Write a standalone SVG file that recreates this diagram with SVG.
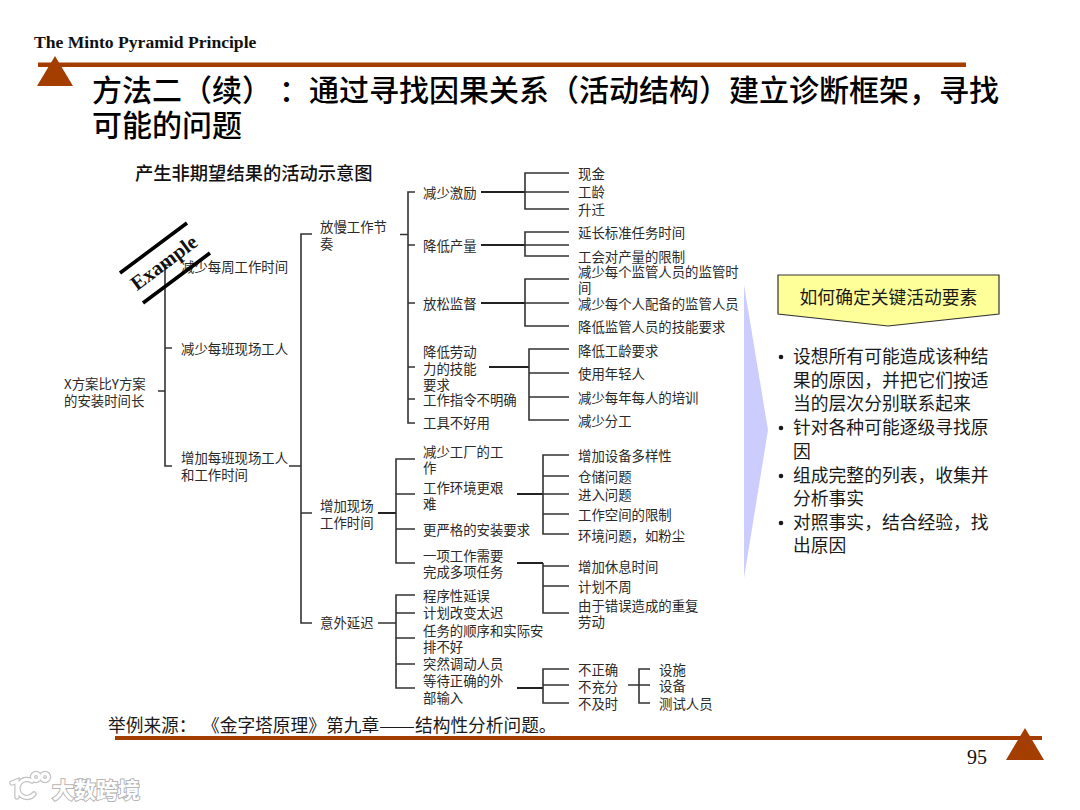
<svg xmlns="http://www.w3.org/2000/svg" width="1080" height="810" viewBox="0 0 1080 810">
<style>
text{font-family:"Liberation Serif","Noto Sans CJK SC",serif;}
.s{font-family:"Noto Sans CJK SC",sans-serif;font-size:13.4px;fill:#2a2a2a;}
.t{font-family:"Noto Sans CJK SC",sans-serif;font-size:30px;font-weight:500;fill:#000;}
.b{font-family:"Noto Sans CJK SC",sans-serif;font-size:17.8px;fill:#1a1a1a;}
.c{fill:none;stroke:#333;stroke-width:1.6;}
.c2{fill:none;stroke:#222;stroke-width:2;}
.accent{fill:#A33D00;}
.wm{fill:none;stroke:#c4c4c4;stroke-width:5.500;stroke-linecap:round;}
.wm2{fill:none;stroke:#fff;stroke-width:3;stroke-linecap:round;}
</style>
<rect width="1080" height="810" fill="#fff"/>
<g id="header">
<text x="34" y="48" font-size="17.6" font-weight="bold" fill="#111">The Minto Pyramid Principle</text>
<rect class="accent" x="38" y="62.500" width="928" height="4.500"/>
<polygon class="accent" points="55,56 73,86 37,86"/>
<text class="t" x="92" y="101">方法二（续）</text>
<text class="t" x="279" y="101">：</text>
<text class="t" x="309" y="101">通过寻找因果关系（活动结构）建立诊断框架，寻找</text>
<text class="t" x="92" y="136">可能的问题</text>
</g>
<text id="subtitle" x="135" y="180" style="font-family:'Noto Sans CJK SC',sans-serif;font-size:18.300px;font-weight:500;fill:#111">产生非期望结果的活动示意图</text>
<g id="connectors">
<path class="c" d="M158 391H165M172 265H165V466H172M165 348H172"/>
<path class="c" d="M289 466H301M312 234H301V623H312M301 513H312"/>
<path class="c" d="M400 234.500H408M415 192H408V423H415M408 245H415M408 303H415M408 367H415M408 399H415"/>
<path class="c2" d="M481 192H525M481 245H525M481 303H525M489 367H529M378 513H396M517 494H543M517 563H543M517 688H543"/>
<path class="c" d="M569 173H525V209H569M525 192H569"/>
<path class="c" d="M569 232H525V256H569M525 245H569"/>
<path class="c" d="M569 279H525V326H569M525 303H569"/>
<path class="c" d="M569 349H529V420H569M529 373H569M529 397H569"/>
<path class="c" d="M415 459H396V563H415M396 494H415M396 529H415"/>
<path class="c" d="M569 455H543V534H569M543 476H569M543 494H569M543 514H569"/>
<path class="c" d="M569 566H543V613H569M543 586H569M543 563V566"/>
<path class="c" d="M378 623H396M415 595H396V688H415M396 613H415M396 638H415M396 664H415"/>
<path class="c" d="M569 669H543V703H569M543 685H569"/>
<path class="c" d="M628 685H650M650 669H639V703H650"/>
</g>
<g id="n-root"><text class="s" x="64" y="389">X方案比Y方案</text><text class="s" x="64" y="406">的安装时间长</text></g>
<g id="n-l1a"><text class="s" x="181" y="272">减少每周工作时间</text></g>
<g id="n-l1b"><text class="s" x="181" y="354">减少每班现场工人</text></g>
<g id="n-l1c"><text class="s" x="181" y="463">增加每班现场工人</text><text class="s" x="181" y="480">和工作时间</text></g>
<g id="n-l2a"><text class="s" x="320" y="232">放慢工作节</text><text class="s" x="320" y="249">奏</text></g>
<g id="n-l2b"><text class="s" x="320" y="511">增加现场</text><text class="s" x="320" y="528">工作时间</text></g>
<g id="n-l2c"><text class="s" x="320" y="628">意外延迟</text></g>
<g id="n-l3-1"><text class="s" x="423" y="198">减少激励</text></g>
<g id="n-l3-2"><text class="s" x="423" y="251">降低产量</text></g>
<g id="n-l3-3"><text class="s" x="423" y="309">放松监督</text></g>
<g id="n-l3-4"><text class="s" x="423" y="357">降低劳动</text><text class="s" x="423" y="374">力的技能</text><text class="s" x="423" y="390">要求</text></g>
<g id="n-l3-5"><text class="s" x="423" y="405">工作指令不明确</text></g>
<g id="n-l3-6"><text class="s" x="423" y="428">工具不好用</text></g>
<g id="n-l3-7"><text class="s" x="423" y="457">减少工厂的工</text><text class="s" x="423" y="473">作</text></g>
<g id="n-l3-8"><text class="s" x="423" y="493">工作环境更艰</text><text class="s" x="423" y="509">难</text></g>
<g id="n-l3-9"><text class="s" x="423" y="535">更严格的安装要求</text></g>
<g id="n-l3-10"><text class="s" x="423" y="561">一项工作需要</text><text class="s" x="423" y="577">完成多项任务</text></g>
<g id="n-l3-11"><text class="s" x="423" y="601">程序性延误</text></g>
<g id="n-l3-12"><text class="s" x="423" y="618">计划改变太迟</text></g>
<g id="n-l3-13"><text class="s" x="423" y="636">任务的顺序和实际安</text><text class="s" x="423" y="652">排不好</text></g>
<g id="n-l3-14"><text class="s" x="423" y="669">突然调动人员</text></g>
<g id="n-l3-15"><text class="s" x="423" y="686">等待正确的外</text><text class="s" x="423" y="703">部输入</text></g>
<g id="n-leaf-a">
<text class="s" x="578" y="179">现金</text><text class="s" x="578" y="197">工龄</text><text class="s" x="578" y="215">升迁</text>
</g>
<g id="n-leaf-b">
<text class="s" x="578" y="238">延长标准任务时间</text><text class="s" x="578" y="262">工会对产量的限制</text>
</g>
<g id="n-leaf-c">
<text class="s" x="578" y="277">减少每个监管人员的监管时</text><text class="s" x="578" y="293">间</text><text class="s" x="578" y="309">减少每个人配备的监管人员</text><text class="s" x="578" y="332">降低监管人员的技能要求</text>
</g>
<g id="n-leaf-d">
<text class="s" x="578" y="356">降低工龄要求</text><text class="s" x="578" y="379">使用年轻人</text><text class="s" x="578" y="403">减少每年每人的培训</text><text class="s" x="578" y="426">减少分工</text>
</g>
<g id="n-leaf-e">
<text class="s" x="578" y="461">增加设备多样性</text><text class="s" x="578" y="482">仓储问题</text><text class="s" x="578" y="500">进入问题</text><text class="s" x="578" y="520">工作空间的限制</text><text class="s" x="578" y="541">环境问题，如粉尘</text>
</g>
<g id="n-leaf-f">
<text class="s" x="578" y="572">增加休息时间</text><text class="s" x="578" y="592">计划不周</text><text class="s" x="578" y="611">由于错误造成的重复</text><text class="s" x="578" y="627">劳动</text>
</g>
<g id="n-leaf-g">
<text class="s" x="578" y="675">不正确</text><text class="s" x="578" y="692">不充分</text><text class="s" x="578" y="709">不及时</text>
</g>
<g id="n-leaf-h">
<text class="s" x="659" y="675">设施</text><text class="s" x="659" y="691">设备</text><text class="s" x="659" y="709">测试人员</text>
</g>
<g id="example">
<path d="M120 273L187 223M143 303L210 253" fill="none" stroke="#000" stroke-width="3.600"/>
<text x="0" y="0" transform="translate(168,268) rotate(-36.700)" text-anchor="middle" font-size="20.500" font-weight="bold" fill="#111">Example</text>
</g>
<polygon id="arrow" points="744,285 768,430 744,578" fill="#CCCCFF"/>
<g id="callout">
<polygon points="778,275 999,275 999,314 888,326 778,314" fill="#FFFF99" stroke="#333" stroke-width="1.200"/>
<text class="b" x="888.500" y="304" text-anchor="middle">如何确定关键活动要素</text>
</g>
<g id="bullets">
<circle cx="781" cy="357" r="2.300" fill="#1a1a1a"/><circle cx="781" cy="428" r="2.300" fill="#1a1a1a"/><circle cx="781" cy="476" r="2.300" fill="#1a1a1a"/><circle cx="781" cy="523" r="2.300" fill="#1a1a1a"/>
<text class="b" x="793" y="363">设想所有可能造成该种结</text>
<text class="b" x="793" y="387">果的原因，并把它们按适</text>
<text class="b" x="793" y="410">当的层次分别联系起来</text>
<text class="b" x="793" y="434">针对各种可能逐级寻找原</text>
<text class="b" x="793" y="458">因</text>
<text class="b" x="793" y="482">组成完整的列表，收集并</text>
<text class="b" x="793" y="505">分析事实</text>
<text class="b" x="793" y="529">对照事实，结合经验，找</text>
<text class="b" x="793" y="552">出原因</text>
</g>
<g id="footer">
<text class="b" y="732" style="font-size:17.700px"><tspan x="108">举例来源：</tspan><tspan x="202">《金字塔原理》</tspan><tspan x="326">第九章</tspan></text>
<text class="b" x="379" y="732" style="font-size:17.700px" textLength="36" lengthAdjust="spacingAndGlyphs">——</text>
<text class="b" x="415" y="732" style="font-size:17.700px">结构性分析问题。</text>
<rect class="accent" x="115" y="736" width="927" height="4"/>
<polygon class="accent" points="1025,728 1044,760 1006,760"/>
<text x="967" y="764" font-size="20" fill="#111">95</text>
</g>
<g id="watermark">
<path class="wm" d="M12 783L17 781V797M32 781A9 9 0 1 0 34 794"/>
<circle class="wm" cx="36" cy="777" r="3.500"/><circle class="wm" cx="45" cy="777" r="3.500"/>
<path class="wm2" d="M12 783L17 781V797M32 781A9 9 0 1 0 34 794"/>
<circle class="wm2" cx="36" cy="777" r="3.500"/><circle class="wm2" cx="45" cy="777" r="3.500"/>
<text x="52" y="798" style="font-family:'Noto Sans CJK SC',sans-serif;font-size:22px;font-weight:700;fill:#fff;stroke:#b5b5b5;stroke-width:2;paint-order:stroke">大数跨境</text>
</g>
</svg>
